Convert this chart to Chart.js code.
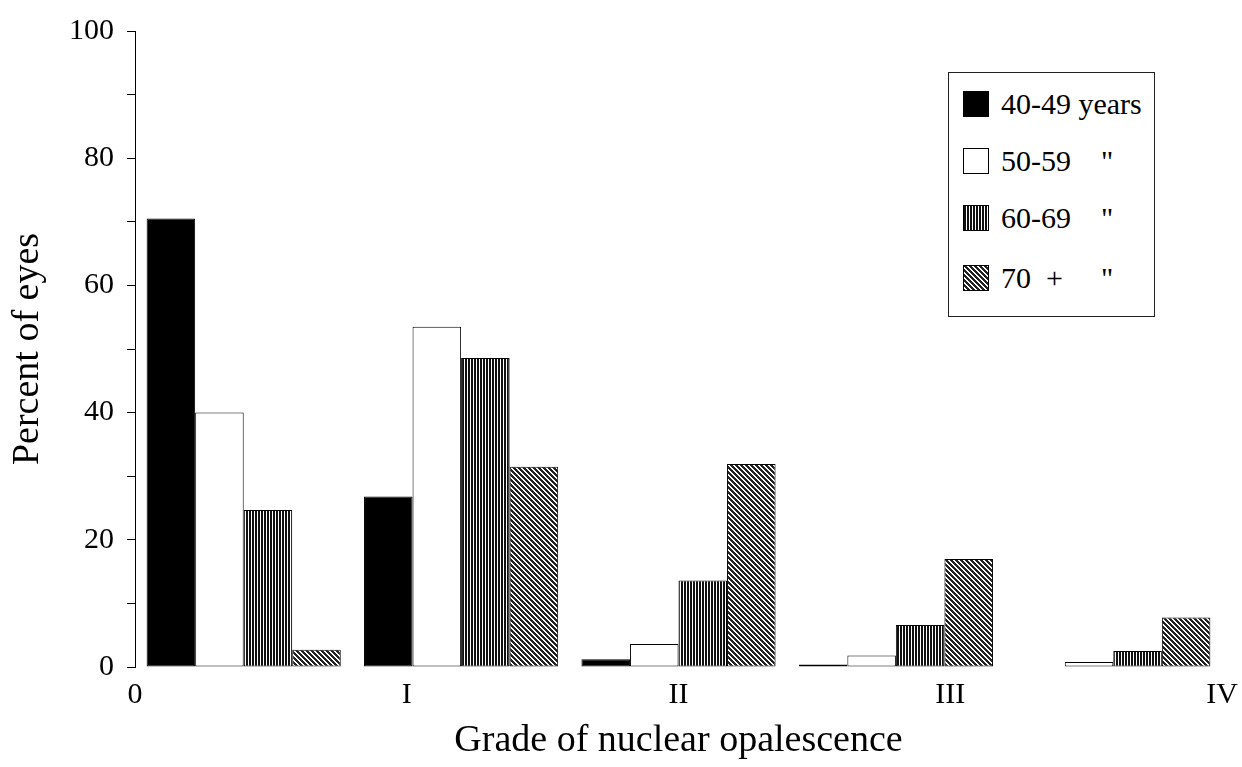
<!DOCTYPE html>
<html><head><meta charset="utf-8">
<script src="https://cdn.jsdelivr.net/npm/chart.js@4.4.0/dist/chart.umd.min.js"></script>
<style>
html,body{margin:0;padding:0;background:#fff;}
#wrap{position:relative;width:1242px;height:767px;}
#legend{position:absolute;left:948px;top:72px;width:207px;height:245px;border:1px solid #222;box-sizing:border-box;font-family:'Liberation Serif','Times New Roman',serif;font-size:30px;color:#000;background:#fff;}
.row{position:absolute;left:14px;height:32px;display:flex;align-items:center;white-space:pre;}
.sw{width:26px;height:26px;box-sizing:border-box;border:1px solid #000;margin-right:12px;flex:none;}
.age{display:inline-block;width:100px;}
</style></head><body>
<div id="wrap"><canvas id="c" width="1242" height="767"></canvas><div id="legend"></div></div>
<script>
const grades = ['0', 'I', 'II', 'III', 'IV'];
const gradeTickLabels = ['0', 'I', 'II', 'III', 'IV'];
const ageGroups = ['40-49', '50-59', '60-69', '70  +'];
const ageUnits = ['years', '"', '"', '"'];
const pct4049 = [70.5, 26.8, 1.2, 0.4, 0];
const pct5059 = [40.0, 53.5, 3.6, 1.8, 0.8];
const pct6069 = [24.7, 48.6, 13.6, 6.6, 2.5];
const pct70plus = [2.7, 31.5, 31.9, 17.0, 7.8];
const yTickLabels = [0, 20, 40, 60, 80, 100];

Chart.defaults.font.family = "'Liberation Serif', 'Times New Roman', serif";
Chart.defaults.color = '#000';

function stripeTile() {
  const c = document.createElement('canvas'); c.width = 3; c.height = 3;
  const g = c.getContext('2d');
  g.fillStyle = '#fff'; g.fillRect(0, 0, 3, 3);
  g.fillStyle = '#111'; g.fillRect(0, 0, 2, 3);
  return c;
}
function hatchTile() {
  const c = document.createElement('canvas'); c.width = 5; c.height = 5;
  const g = c.getContext('2d');
  g.fillStyle = '#fff'; g.fillRect(0, 0, 5, 5);
  g.fillStyle = '#222';
  for (let y = 0; y < 5; y++) for (let x = 0; x < 5; x++) if (((x - y + 10) % 5) < 3) g.fillRect(x, y, 1, 1);
  return c;
}

const ctx = document.getElementById('c').getContext('2d');
const sTile = stripeTile(), hTile = hatchTile();
const fills = ['#000', '#fff', ctx.createPattern(sTile, 'repeat'), ctx.createPattern(hTile, 'repeat')];
const swatchCss = ['background:#000', 'background:#fff',
  'background-image:url(' + sTile.toDataURL() + ')', 'background-image:url(' + hTile.toDataURL() + ')'];
const series = [pct4049, pct5059, pct6069, pct70plus];

new Chart(ctx, {
  type: 'bar',
  data: {
    labels: grades,
    datasets: series.map((d, i) => ({
      label: ageGroups[i] + ' ' + ageUnits[i],
      data: d,
      backgroundColor: fills[i],
      borderColor: '#000',
      borderWidth: 1,
      borderSkipped: false,
      categoryPercentage: 0.893,
      barPercentage: 1.0
    }))
  },
  options: {
    responsive: false, animation: false, devicePixelRatio: 1,
    layout: { padding: { left: 0, right: 20, top: 22, bottom: 0 } },
    plugins: { legend: { display: false }, tooltip: { enabled: false } },
    scales: {
      x: { type: 'category', display: false },
      x2: {
        type: 'linear', position: 'bottom', min: 0, max: 4, offset: false,
        afterFit: s => { s.height = 100; s.paddingLeft = 0; s.paddingRight = 0; },
        grid: { display: false, drawTicks: false, offset: false },
        border: { display: false },
        ticks: { stepSize: 1, autoSkip: false, maxRotation: 0, padding: 10, font: { size: 30 }, color: '#000',
                 callback: v => gradeTickLabels[v] },
        title: { display: true, text: 'Grade of nuclear opalescence', font: { size: 38 }, color: '#000',
                 padding: { top: 6, bottom: 3 } }
      },
      y: {
        min: 0, max: 100,
        afterFit: s => { s.width = 135; },
        grid: { drawOnChartArea: false, tickLength: 8, color: '#000' },
        border: { display: true, color: '#000', width: 1 },
        ticks: { stepSize: 10, autoSkip: false, padding: 13, font: { size: 30 }, color: '#000',
                 callback: v => yTickLabels.includes(v) ? String(v) : '' },
        title: { display: true, text: 'Percent of eyes', font: { size: 38 }, color: '#000',
                 padding: { top: 5, bottom: 4 } }
      }
    }
  }
});

const legend = document.getElementById('legend');
const rowTops = [15, 72, 129, 189];
ageGroups.forEach((a, i) => {
  const row = document.createElement('div');
  row.className = 'row';
  row.style.top = rowTops[i] + 'px';
  const sw = document.createElement('span');
  sw.className = 'sw';
  sw.setAttribute('style', swatchCss[i]);
  row.appendChild(sw);
  if (ageUnits[i] === 'years') {
    const t = document.createElement('span');
    t.textContent = a + ' ' + ageUnits[i];
    row.appendChild(t);
  } else {
    const t = document.createElement('span'); t.className = 'age'; t.textContent = a;
    const u = document.createElement('span'); u.textContent = ageUnits[i];
    row.appendChild(t); row.appendChild(u);
  }
  legend.appendChild(row);
});
</script>
</body></html>
